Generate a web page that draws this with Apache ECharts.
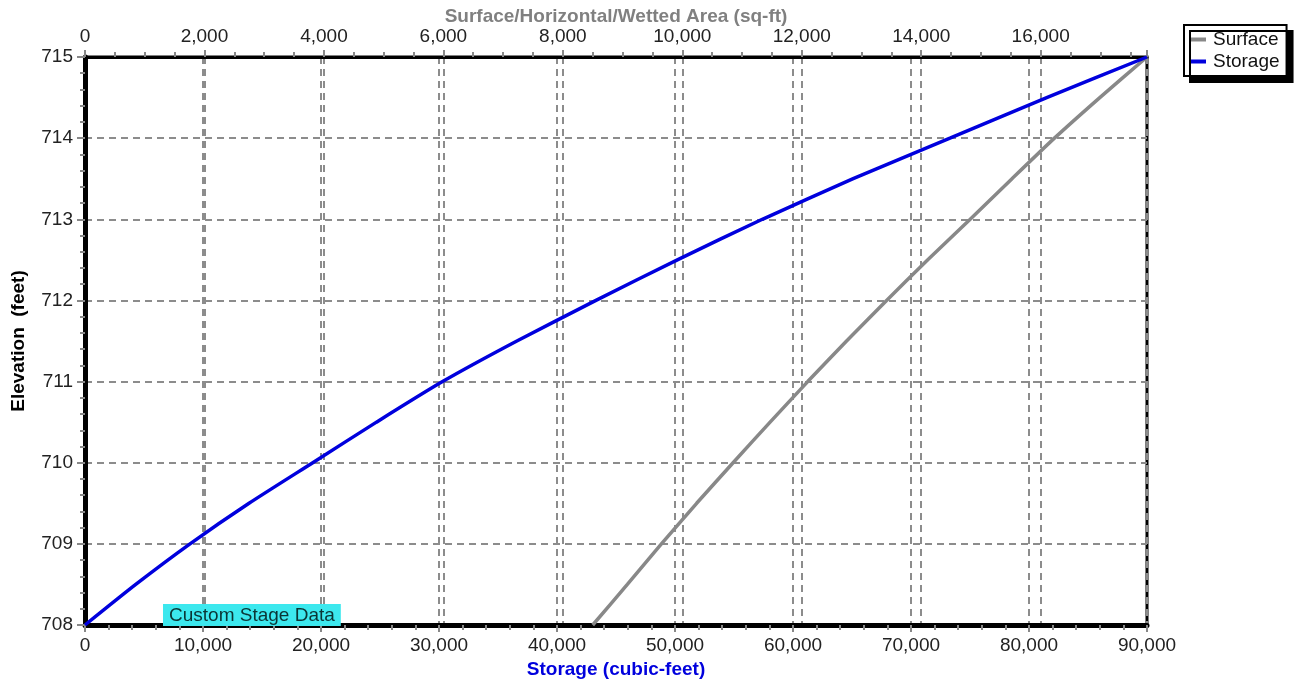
<!DOCTYPE html>
<html>
<head>
<meta charset="utf-8">
<script src="https://cdn.jsdelivr.net/npm/echarts@6/dist/echarts.min.js"></script>
<style>
  html, body { margin: 0; padding: 0; background: #fff; }
  #chart { width: 1294px; height: 682px; }
</style>
</head>
<body>
<div id="chart"></div>
<script>
// elevation (feet), read every half foot
const elevations = [708, 708.5, 709, 709.5, 710, 710.5, 711, 711.5, 712, 712.5, 713, 713.5, 714, 714.5, 715];
// storage (cubic-feet) at each elevation
const storage = [0, 4300, 8900, 13900, 19300, 24700, 30300, 36600, 43300, 50200, 57400, 65100, 73300, 81500, 90000];
// surface area (sq-ft) at each elevation
const surface = [8500, 9080, 9650, 10240, 10850, 11470, 12100, 12750, 13420, 14110, 14820, 15520, 16230, 16990, 17780];

const fmt = (v) => Number(v).toLocaleString("en-US");
const gridLine = { show: true, lineStyle: { color: "#8c8c8c", type: [7, 5], width: 2 } };
const font = "Liberation Sans, Arial, sans-serif";

const myChart = echarts.init(document.getElementById("chart"));

const option = {
  animation: false,
  textStyle: { fontFamily: font },
  grid: {
    left: 85, right: 147, top: 57, bottom: 57,
    outerBoundsMode: "none",
    containLabel: false,
    show: true, borderColor: "#000", borderWidth: 3
  },
  legend: {
    orient: "vertical",
    left: 1184, top: 25,
    padding: [5, 7, 5, 7],
    itemGap: 3,
    itemWidth: 15, itemHeight: 4,
    icon: "rect",
    backgroundColor: "#fff",
    borderColor: "#000", borderWidth: 2,
    shadowColor: "#000", shadowBlur: 0, shadowOffsetX: 6, shadowOffsetY: 6,
    textStyle: { fontSize: 19, color: "#111", padding: [0, 0, 0, 2] },
    data: ["Surface", "Storage"]
  },
  xAxis: [
    {
      type: "value",
      position: "bottom",
      min: 0, max: 90000, interval: 10000,
      name: "Storage (cubic-feet)",
      nameLocation: "middle", nameGap: 31,
      nameTextStyle: { color: "#0000dd", fontWeight: "bold", fontSize: 19 },
      axisLine: { show: true, lineStyle: { color: "#000", width: 5 } },
      axisTick: { show: true, length: 7, lineStyle: { color: "#888", width: 2 } },
      minorTick: { show: true, splitNumber: 5, length: 5, lineStyle: { color: "#888", width: 2 } },
      axisLabel: { color: "#222", fontSize: 19, margin: 11, formatter: fmt },
      splitLine: gridLine
    },
    {
      type: "value",
      position: "top",
      min: 0, max: 17780, interval: 2000,
      name: "Surface/Horizontal/Wetted Area (sq-ft)",
      nameLocation: "middle", nameGap: 31,
      nameMoveOverlap: false,
      nameTextStyle: { color: "#808080", fontWeight: "bold", fontSize: 19 },
      axisLine: { show: true, lineStyle: { color: "#000", width: 3 } },
      axisTick: { show: true, length: 7, lineStyle: { color: "#888", width: 2 } },
      minorTick: { show: true, splitNumber: 4, length: 5, lineStyle: { color: "#888", width: 2 } },
      axisLabel: { color: "#222", fontSize: 19, margin: 11, showMaxLabel: false, formatter: fmt },
      splitLine: gridLine
    }
  ],
  yAxis: [
    {
      type: "value",
      min: 708, max: 715, interval: 1,
      name: "Elevation  (feet)",
      nameLocation: "middle", nameGap: 57, nameRotate: 90,
      nameTextStyle: { color: "#000", fontWeight: "bold", fontSize: 19 },
      axisLine: { show: true, lineStyle: { color: "#000", width: 5 } },
      axisTick: { show: true, length: 8, lineStyle: { color: "#888", width: 2 } },
      minorTick: { show: true, splitNumber: 5, length: 5, lineStyle: { color: "#888", width: 2 } },
      axisLabel: { color: "#222", fontSize: 19, margin: 12 },
      splitLine: gridLine
    }
  ],
  series: [
    {
      name: "Surface",
      type: "line",
      xAxisIndex: 1,
      showSymbol: false,
      smooth: 0.2,
      lineStyle: { color: "#888", width: 3.5 },
      itemStyle: { color: "#888" },
      data: elevations.map((e, i) => [surface[i], e])
    },
    {
      name: "Storage",
      type: "line",
      xAxisIndex: 0,
      showSymbol: false,
      smooth: 0.2,
      lineStyle: { color: "#0000dd", width: 3.5 },
      itemStyle: { color: "#0000dd" },
      data: elevations.map((e, i) => [storage[i], e])
    }
  ],
  graphic: [
    {
      type: "text",
      left: 163, top: 604,
      z: 100,
      style: {
        text: "Custom Stage Data",
        font: "19px " + font,
        fill: "#0b3535",
        backgroundColor: "#3ce8ee",
        padding: [2, 6, 1, 6]
      }
    }
  ]
};

myChart.setOption(option);
</script>
</body>
</html>
